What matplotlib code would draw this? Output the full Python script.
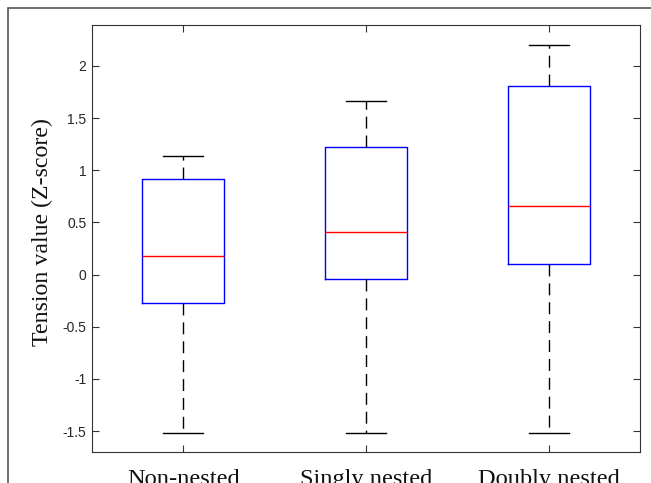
import matplotlib
matplotlib.use("Agg")
import matplotlib.pyplot as plt
from matplotlib.patches import Rectangle

categories = ["Non-nested", "Singly nested", "Doubly nested"]
whisker_low = [-1.52, -1.52, -1.52]
q1 = [-0.27, -0.04, 0.105]
median = [0.175, 0.41, 0.655]
q3 = [0.915, 1.22, 1.81]
whisker_high = [1.135, 1.66, 2.205]
yticks = [-1.5, -1, -0.5, 0, 0.5, 1, 1.5, 2]
ytick_labels = ["-1.5", "-1", "-0.5", "0", "0.5", "1", "1.5", "2"]

W, H = 651, 483
fig = plt.figure(figsize=(W / 100, H / 100), dpi=100)
fig.patch.set_facecolor("white")

# outer frame of the cropped screenshot
fig.patches.append(Rectangle((8 / W, -0.1), 1.2, (H - 8) / H + 0.1, transform=fig.transFigure,
                             fill=False, edgecolor="#555555", lw=1.2, zorder=0))

ax = fig.add_axes([92 / W, (H - 452) / H, (640 - 92) / W, (452 - 25) / H])

stats = []
for i, c in enumerate(categories):
    stats.append(dict(label=c, whislo=whisker_low[i], q1=q1[i], med=median[i],
                      q3=q3[i], whishi=whisker_high[i], fliers=[]))

ax.bxp(stats, positions=[1, 2, 3], widths=0.45, showfliers=False,
       boxprops=dict(color="#0000ff", lw=1.0),
       medianprops=dict(color="#ff0000", lw=1.0),
       whiskerprops=dict(color="black", lw=1.0, linestyle=(0, (8.6, 5))),
       capprops=dict(color="black", lw=1.0), capwidths=0.22)

ax.set_xlim(0.5, 3.5)
ax.set_ylim(-1.70, 2.393)
ax.set_xticks([1, 2, 3])
ax.set_xticklabels(categories, family="Liberation Serif", fontsize=17.6, color="#111111")
ax.set_yticks(yticks)
ax.set_yticklabels(ytick_labels, family="Liberation Sans", fontsize=10, color="#262626")
ax.tick_params(axis="both", direction="in", length=5, width=0.8, color="#333333",
               top=True, right=True)
ax.tick_params(axis="x", pad=12.5)
ax.tick_params(axis="y", pad=4)
for s in ax.spines.values():
    s.set_color("#333333")
    s.set_linewidth(0.8)

ax.set_ylabel("Tension value (Z-score)", family="Liberation Serif", fontsize=17.2, color="#111111")
ax.yaxis.set_label_coords(-0.071, 0.514)

fig.savefig("out.png", dpi=100)
